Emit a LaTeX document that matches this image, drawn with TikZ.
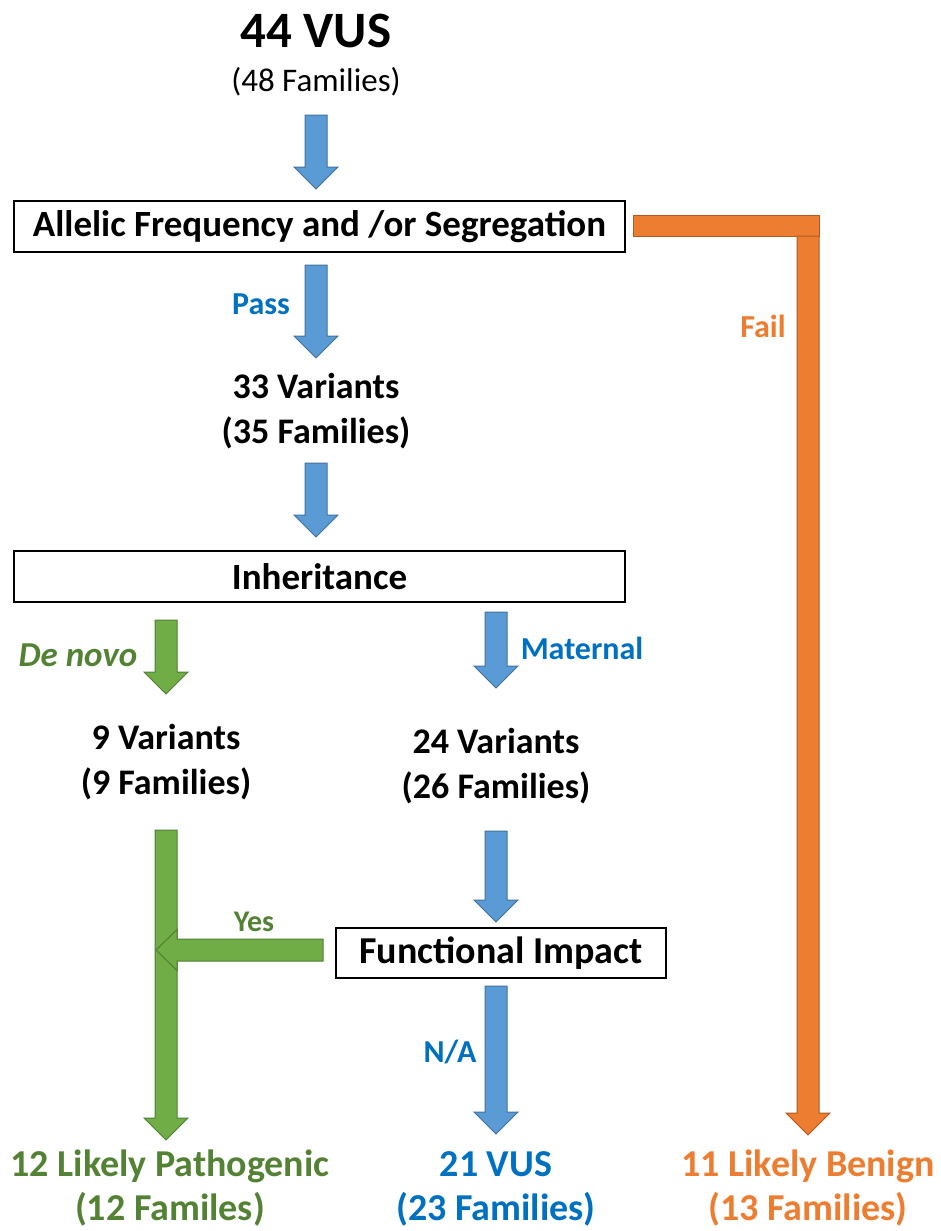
\documentclass[tikz,border=0pt]{standalone}
\usepackage{fontspec}
\setmainfont{Carlito}
\usepackage{tikz}
\usetikzlibrary{positioning,calc}
\usepackage{xcolor}
\definecolor{bluefill}{HTML}{5B9BD5}
\definecolor{blueline}{HTML}{41719C}
\definecolor{greenfill}{HTML}{70AD47}
\definecolor{greenline}{HTML}{507E32}
\definecolor{orangefill}{HTML}{ED7D31}
\definecolor{orangeline}{HTML}{AE5A21}
\definecolor{bluetxt}{HTML}{0070C0}
\definecolor{greentxt}{HTML}{548235}
\definecolor{orangetxt}{HTML}{ED7D31}
\newcommand{\blockdown}[3]{%
  \filldraw[#1] let \p1=#2, \p2=#3 in
    (\x1-11pt,\y1) -- (\x1+11pt,\y1) -- (\x1+11pt,\y2+22pt) -- (\x1+22pt,\y2+22pt)
    -- (\x1,\y2) -- (\x1-22pt,\y2+22pt) -- (\x1-11pt,\y2+22pt) -- cycle;}
\newcommand{\blockleft}[3]{%
  \filldraw[#1] let \p1=#2, \p2=#3 in
    (\x1,\y1+11pt) -- (\x1,\y1-11pt) -- (\x2+21pt,\y1-11pt) -- (\x2+21pt,\y1-20.5pt)
    -- (\x2,\y1) -- (\x2+21pt,\y1+20.5pt) -- (\x2+21pt,\y1+11pt) -- cycle;}

\begin{document}
\begin{tikzpicture}[
    x=1pt, y=-1pt,
    tbig/.style={font=\fontsize{51}{60}\selectfont\bfseries, inner sep=0pt, anchor=base},
    tsub/.style={font=\fontsize{33}{40}\selectfont, inner sep=0pt, anchor=base},
    tmain/.style={font=\fontsize{36}{45}\selectfont\bfseries, inner sep=0pt, anchor=base},
    tend/.style={font=\fontsize{38}{45}\selectfont\bfseries, inner sep=0pt, anchor=base},
    lbl/.style={font=\fontsize{32}{40}\selectfont\bfseries, inner sep=0pt, anchor=base},
    stagebox/.style={draw=black, line width=2.5pt, outer sep=0pt, inner sep=0pt,
        minimum width=611pt, minimum height=51pt, font=\fontsize{37}{45}\selectfont\bfseries},
    barB/.style={fill=bluefill, draw=blueline, line width=1pt},
    barG/.style={fill=greenfill, draw=greenline, line width=1pt},
    barO/.style={fill=orangefill, draw=orangeline, line width=1pt},
]
\useasboundingbox (0,0) rectangle (940,1231);
\node[tbig] (vus) at (316,48) {44 VUS};
\node[tsub] (fam0) at (316,92) {(48 Families)};
\node[stagebox] (afs) at (319.5,226.5) {Allelic Frequency and /or Segregation};
\node[lbl, text=bluetxt] (pass) at (261,314) {Pass};
\node[lbl, text=orangetxt] (fail) at (763,337) {Fail};
\node[tmain] (v33) at (316,398) {33 Variants};
\node[tmain] (f35) at (316,443) {(35 Families)};
\node[stagebox] (inh) at (319.5,576.5) {Inheritance};
\node[lbl, text=greentxt, font=\fontsize{35}{40}\selectfont\bfseries\itshape] (denovo) at (78,666) {De novo};
\node[lbl, text=bluetxt] (mat) at (582,659) {Maternal};
\node[tmain] (v9) at (166,749) {9 Variants};
\node[tmain] (f9) at (166,794) {(9 Families)};
\node[tmain] (v24) at (496,753) {24 Variants};
\node[tmain] (f26) at (496,798) {(26 Families)};
\node[stagebox, minimum width=330pt, minimum height=50pt, font=\fontsize{38}{45}\selectfont\bfseries] (fi) at (501,953) {Functional Impact};
\node[lbl, text=greentxt, font=\fontsize{30}{40}\selectfont\bfseries] (yes) at (254,931) {Yes};
\node[lbl, text=bluetxt] (na) at (450,1062) {N/A};
\node[tend, text=greentxt] (lp) at (170,1176) {12 Likely Pathogenic};
\node[tend, text=greentxt] (lpf) at (170,1220) {(12 Familes)};
\node[tend, text=bluetxt] (vus21) at (496,1176) {21 VUS};
\node[tend, text=bluetxt] (vusf) at (496,1220) {(23 Families)};
\node[tend, text=orangetxt] (lb) at (808,1176) {11 Likely Benign};
\node[tend, text=orangetxt] (lbf) at (808,1220) {(13 Families)};
\blockdown{barB}{($(fam0.base)+(0,23)$)}{($(afs.north)+(0,-12)$)}
\blockdown{barB}{($(v33.base |- afs.south)+(0,13)$)}{($(v33.base)+(0,-40)$)}
\blockdown{barB}{($(f35.base)+(0,20)$)}{($(inh.north)+(0,-14)$)}
\blockdown{barG}{($(v9.base |- inh.south)+(0,18)$)}{($(v9.base)+(0,-55)$)}
\blockdown{barB}{($(v24.base |- inh.south)+(0,10)$)}{($(v24.base)+(0,-65)$)}
\blockdown{barG}{($(f9.base)+(0,36)$)}{($(lp.base)+(0,-36)$)}
\blockdown{barB}{($(f26.base)+(0,33)$)}{($(fi.north)+(0,-6)$)}
\blockdown{barB}{($(vus21.base |- fi.south)+(0,8)$)}{($(vus21.base)+(0,-42)$)}
\blockleft{barG}{($(fi.west)+(-13,-3)$)}{($(f9.base)+(-10,0)$)}
\filldraw[barO] let \p1=(afs.east), \p2=(lb.base) in (\x1+8pt,\y1+11.5pt) rectangle (\x2+11pt,\y1-9.5pt);
\blockdown{barO}{($(lb.base |- afs.east)+(0,9.5)$)}{($(lb.base)+(0,-41)$)}
\end{tikzpicture}
\end{document}
